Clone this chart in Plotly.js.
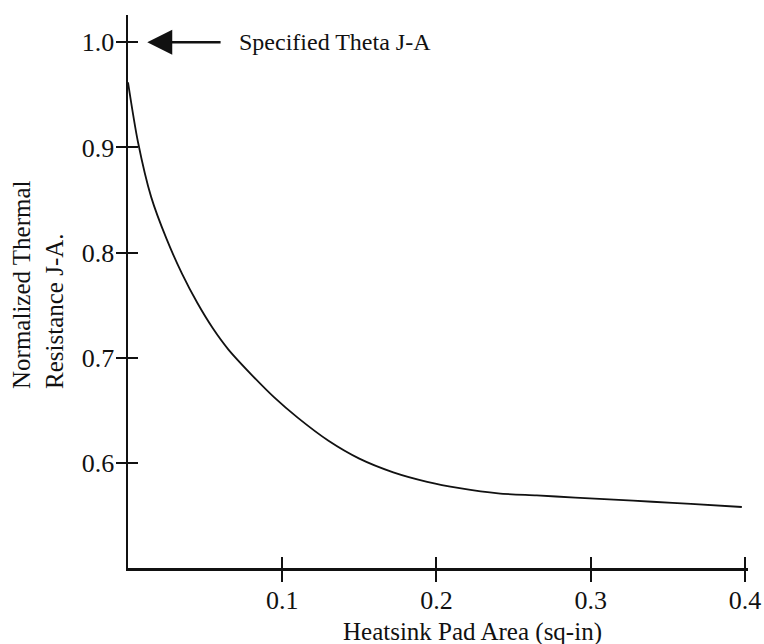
<!DOCTYPE html>
<html>
<head>
<meta charset="utf-8">
<script src="https://cdn.plot.ly/plotly-3.0.1.min.js"></script>
<style>html,body{margin:0;padding:0;background:#fff;}#chart{width:764px;height:644px;}</style>
</head>
<body>
<div id="chart"></div>
<script>
// Heatsink pad area (sq-in)
const padArea = [0, 0.0065, 0.015, 0.025, 0.035, 0.045, 0.055, 0.065, 0.080, 0.095, 0.110, 0.130, 0.150, 0.172, 0.194, 0.215, 0.240, 0.265, 0.290, 0.315, 0.340, 0.365, 0.398];
// Normalized thermal resistance J-A
const thetaJA = [0.962, 0.905, 0.853, 0.813, 0.780, 0.752, 0.728, 0.708, 0.684, 0.662, 0.643, 0.621, 0.604, 0.591, 0.582, 0.576, 0.571, 0.569, 0.567, 0.565, 0.563, 0.561, 0.558];

const xTickVals = [0.1, 0.2, 0.3, 0.4];
const xTickText = ['0.1', '0.2', '0.3', '0.4'];
const yTickVals = [0.6, 0.7, 0.8, 0.9, 1.0];
const yTickText = ['0.6', '0.7', '0.8', '0.9', '1.0'];
const specifiedTheta = 1.0;

const serif = 'Liberation Serif, Times New Roman, serif';

const traces = [
  {x: padArea, y: thetaJA, type: 'scatter', mode: 'lines',
   line: {color: '#111', width: 1.8, shape: 'spline', smoothing: 0.8}, hoverinfo: 'skip', showlegend: false},
  {x: [null], y: [null], type: 'scatter', mode: 'lines', xaxis: 'x2', yaxis: 'y2', showlegend: false, hoverinfo: 'skip'}
];

const xr = [0, 0.402];
const yr = [0.5, 1.026];

const layout = {
  width: 764, height: 644,
  margin: {l: 128, r: 16, t: 15, b: 76},
  paper_bgcolor: '#fff', plot_bgcolor: '#fff',
  showlegend: false,
  font: {family: serif, size: 26, color: '#111'},
  xaxis: {range: xr, showline: true, linecolor: '#111', linewidth: 2.5,
    ticks: 'outside', ticklen: 11, tickwidth: 2, tickcolor: '#111',
    tickmode: 'array', tickvals: xTickVals, ticktext: xTickText, showgrid: false, zeroline: false,
    ticklabelstandoff: -4,
    tickfont: {family: serif, size: 26, color: '#111'}, fixedrange: true},
  xaxis2: {range: xr, overlaying: 'x', anchor: 'y', side: 'bottom', showline: false,
    ticks: 'inside', ticklen: 11, tickwidth: 2, tickcolor: '#111',
    tickmode: 'array', tickvals: xTickVals, showticklabels: false, showgrid: false, zeroline: false},
  yaxis: {range: yr, showline: true, linecolor: '#111', linewidth: 2.5,
    ticks: 'outside', ticklen: 10, tickwidth: 2, tickcolor: '#111',
    tickmode: 'array', tickvals: yTickVals, ticktext: yTickText, showgrid: false, zeroline: false,
    ticklabelstandoff: -4,
    tickfont: {family: serif, size: 26, color: '#111'}, fixedrange: true},
  yaxis2: {range: yr, overlaying: 'y', anchor: 'x', side: 'left', showline: false,
    ticks: 'inside', ticklen: 10, tickwidth: 2, tickcolor: '#111',
    tickmode: 'array', tickvals: yTickVals, showticklabels: false, showgrid: false, zeroline: false},
  annotations: [
    {xref: 'x', yref: 'y', x: 0.0125, y: specifiedTheta, axref: 'x', ayref: 'y', ax: 0.061, ay: specifiedTheta,
     text: '', showarrow: true, arrowhead: 2, arrowsize: 2, arrowwidth: 2.5, arrowcolor: '#111'},
    {xref: 'x', yref: 'y', x: 0.0707, y: specifiedTheta, xanchor: 'left', yanchor: 'middle',
     text: 'Specified Theta J-A', showarrow: false, font: {family: serif, size: 24, color: '#111'}},
    {xref: 'paper', yref: 'paper', x: -0.145, y: 0.512, xanchor: 'center', yanchor: 'middle',
     textangle: -90, align: 'left', text: 'Normalized Thermal<br>Resistance J-A.', showarrow: false,
     font: {family: serif, size: 25, color: '#111'}},
    {xref: 'paper', yref: 'paper', x: 0.556, y: -0.116, xanchor: 'center', yanchor: 'middle',
     text: 'Heatsink Pad Area (sq-in)', showarrow: false, font: {family: serif, size: 25, color: '#111'}}
  ]
};

Plotly.newPlot('chart', traces, layout, {displayModeBar: false, staticPlot: true});
</script>
</body>
</html>
